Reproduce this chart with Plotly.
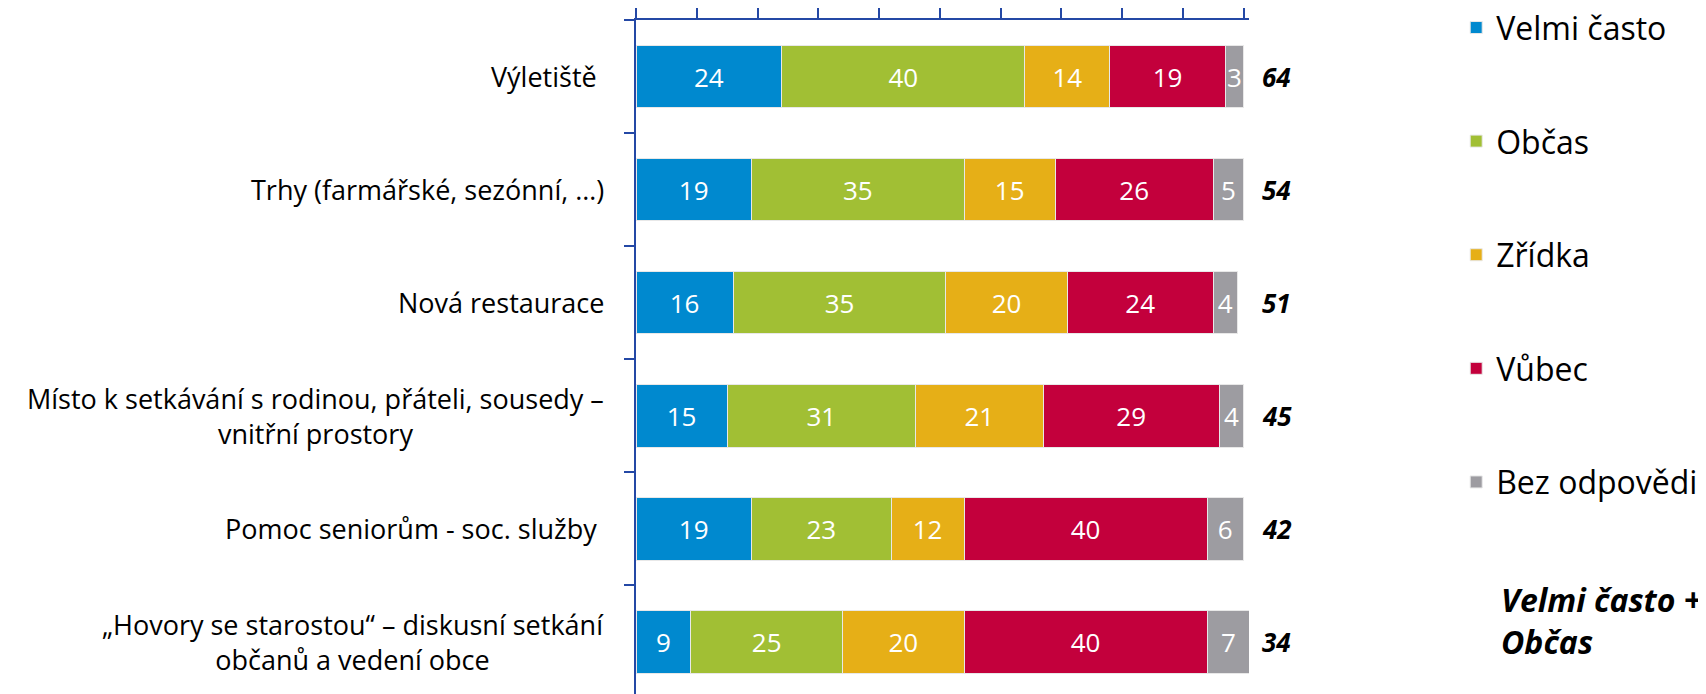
import plotly.graph_objects as go

categories = [
    "Výletiště ",
    "Trhy (farmářské, sezónní, …)",
    "Nová restaurace",
    "Místo k setkávání s rodinou, přáteli, sousedy –<br>vnitřní prostory",
    "Pomoc seniorům - soc. služby ",
    "„Hovory se starostou“ – diskusní setkání<br>občanů a vedení obce",
]
velmi_casto = [24, 19, 16, 15, 19, 9]
obcas = [40, 35, 35, 31, 23, 25]
zridka = [14, 15, 20, 21, 12, 20]
vubec = [19, 26, 24, 29, 40, 40]
bez_odpovedi = [3, 5, 4, 4, 6, 7]
totals = [64, 54, 51, 45, 42, 34]

series = [
    ("Velmi často", velmi_casto, "#0089CF"),
    ("Občas", obcas, "#A1BF34"),
    ("Zřídka", zridka, "#E6AF17"),
    ("Vůbec", vubec, "#C3003C"),
    ("Bez odpovědi", bez_odpovedi, "#9D9CA1"),
]

FONT = "Open Sans"
AXIS = "#2448A5"
pos = list(range(len(categories)))

fig = go.Figure()
for name, vals, color in series:
    fig.add_trace(go.Bar(
        y=pos, x=vals, name=name, orientation="h",
        marker=dict(color=color, line=dict(color="#e8e8e8", width=1)),
        text=vals, textposition="inside", insidetextanchor="middle",
        textangle=0, textfont=dict(color="white", size=26, family=FONT),
        legendgroup=name,
    ))

for p, lab, t in zip(pos, categories, totals):
    fig.add_annotation(x=0, xref="paper", y=p, yref="y", text=lab, showarrow=False,
                       xanchor="right", xshift=-30, align="center",
                       font=dict(size=27, family=FONT, color="#000"))
    fig.add_annotation(x=1.018, xref="paper", y=p, yref="y", text=f"<b><i>{t}</i></b>",
                       showarrow=False, xanchor="left",
                       font=dict(size=26, family=FONT, color="#000"))

fig.add_annotation(x=1.408, xref="paper", y=0.12, yref="paper",
                   text="<b><i>Velmi často +<br>Občas</i></b>", showarrow=False,
                   xanchor="left", yanchor="middle", align="left",
                   font=dict(size=32, family=FONT, color="#000"))

fig.update_layout(
    width=1706, height=694,
    margin=dict(l=628, r=465, t=12, b=0, autoexpand=False),
    barmode="stack", bargap=0.443,
    plot_bgcolor="white", paper_bgcolor="white",
    uniformtext=dict(minsize=26, mode="show"),
    font=dict(family=FONT, color="#000"),
    legend=dict(x=1.338, y=1.029, xanchor="left", yanchor="top",
                font=dict(size=32, family=FONT), tracegroupgap=69,
                itemwidth=30, maxheight=690),
)
fig.update_xaxes(range=[0, 100.9], side="top", showline=True, linecolor=AXIS,
                 linewidth=2, ticks="outside", ticklen=10, tickcolor=AXIS,
                 tickwidth=2, tickvals=list(range(0, 101, 10)),
                 showticklabels=False, showgrid=False, zeroline=False)
fig.update_yaxes(range=[5.535, -0.5], showline=True, linecolor=AXIS, linewidth=2,
                 ticks="outside", ticklen=10, tickcolor=AXIS, tickwidth=2,
                 tickvals=[-0.5, 0.5, 1.5, 2.5, 3.5, 4.5], showticklabels=False,
                 showgrid=False, zeroline=False)

fig.write_html("out.html")
